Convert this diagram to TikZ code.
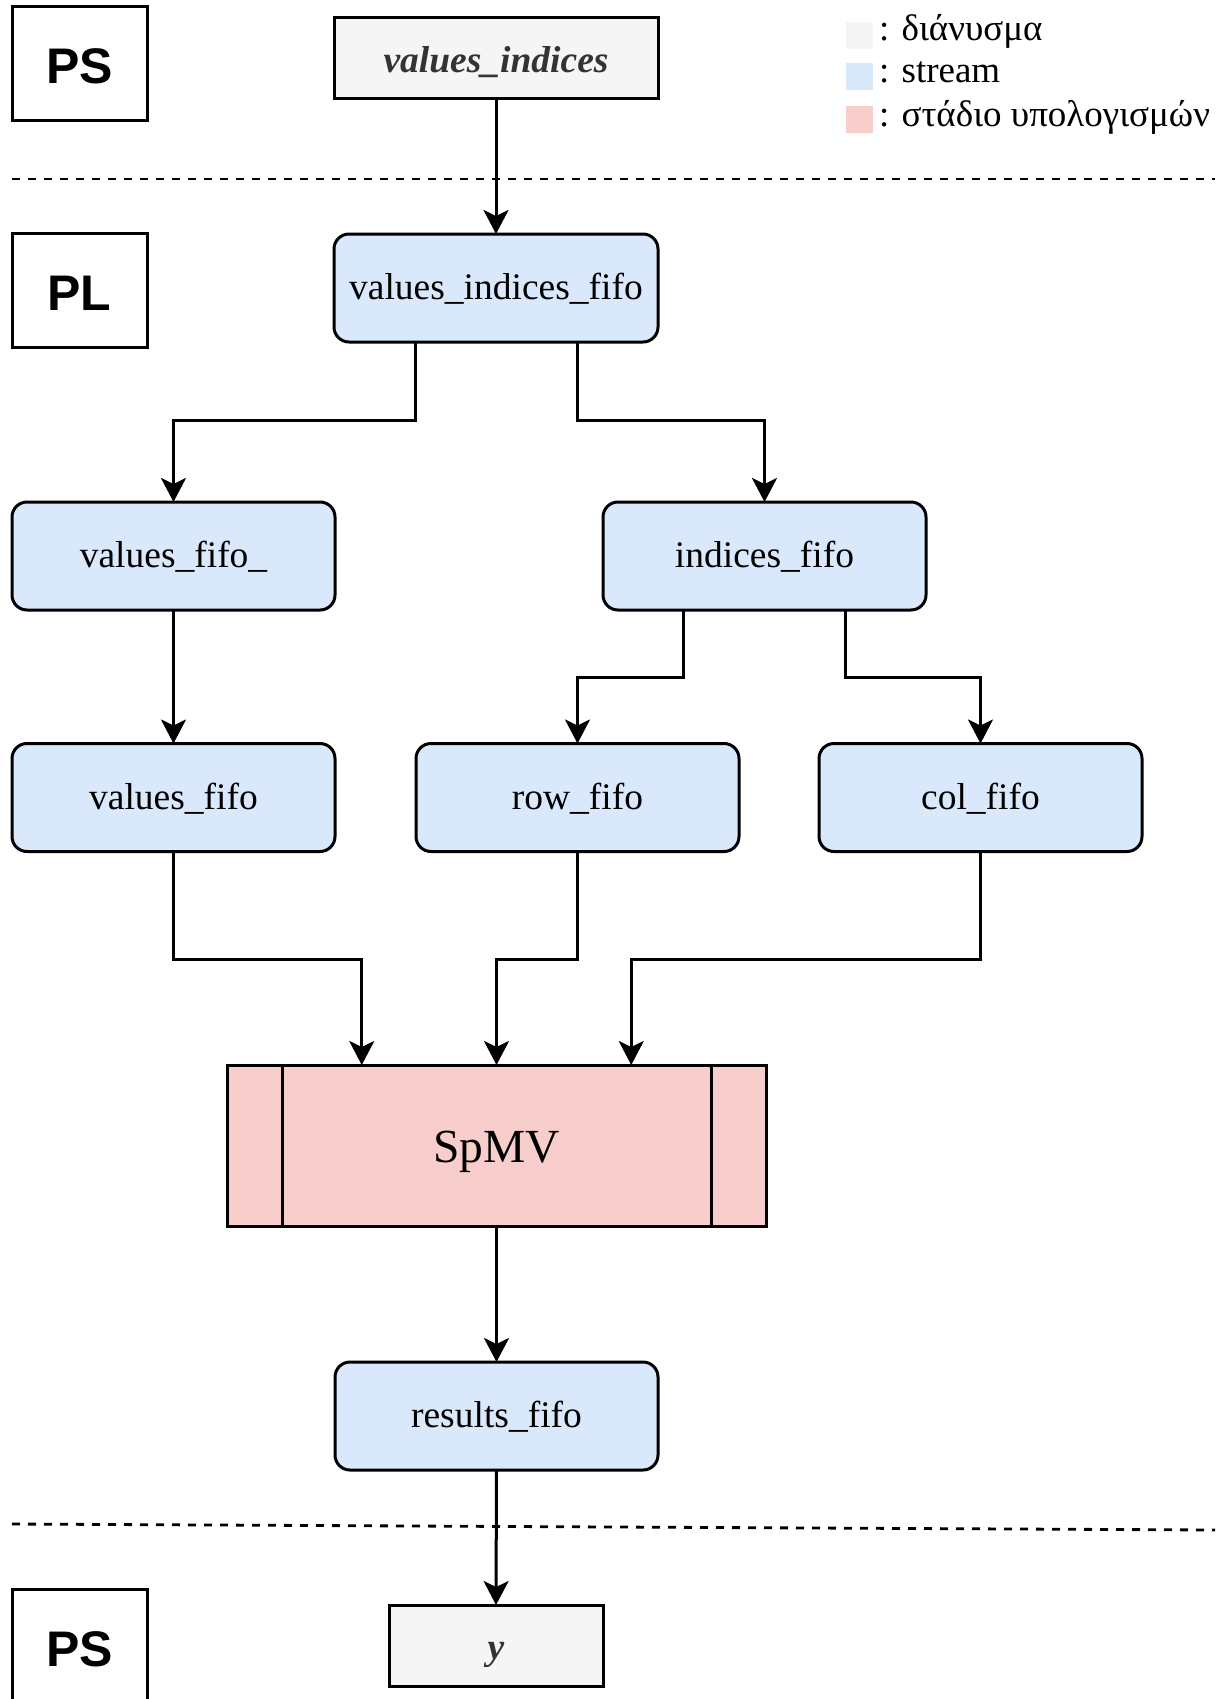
\documentclass[tikz,border=0pt]{standalone}
\usepackage{fontspec}
\setmainfont{Liberation Serif}
\newfontfamily\labelsans{Liberation Sans}
\usetikzlibrary{arrows.meta,calc}
\definecolor{vecfill}{HTML}{F5F5F5}
\definecolor{streamfill}{HTML}{DAE8FC}
\definecolor{stagefill}{HTML}{F8CECC}
\definecolor{vectext}{HTML}{333333}

\begin{document}
\begin{tikzpicture}[x=1pt,y=-1pt,
  every node/.style={inner sep=0pt, outer sep=0pt},
  boxline/.style={draw=black, line width=3pt},
  domainbox/.style={boxline, minimum width=135pt, minimum height=114pt,
    font=\labelsans\bfseries\fontsize{50}{60}\selectfont, text height=40pt, text depth=0pt},
  vecbox/.style={boxline, fill=vecfill, text=vectext, minimum height=81pt,
    font=\bfseries\itshape\fontsize{37.5}{45}\selectfont, text height=36pt, text depth=8pt},
  fifobox/.style={boxline, fill=streamfill, rounded corners=15pt, minimum width=323pt,
    minimum height=108pt, font=\fontsize{37.5}{45}\selectfont, text height=31pt, text depth=8pt},
  stagebox/.style={boxline, fill=stagefill, minimum width=539pt, minimum height=161pt,
    font=\fontsize{47.5}{57}\selectfont, text height=43pt, text depth=10pt},
  conn/.style={line width=3pt, -{Stealth[length=24pt,width=25pt,inset=6pt]}},
  sepline/.style={line width=2.8pt, dash pattern=on 8pt off 8pt},
  swatch/.style={minimum width=27pt, minimum height=27pt},
  legtext/.style={anchor=base west, font=\fontsize{37}{44}\selectfont}
]
\useasboundingbox (0,0) rectangle (1223,1699);

% domain labels
\node[domainbox] (psTop) at (79.5,64) {PS};
\node[domainbox] (plBox) at (79.5,290) {PL};
\node[domainbox] (psBot) at (79.5,1646) {PS};

% domain separators
\draw[sepline] (12,179) -- (1215,179);
\draw[sepline] (12,1524) -- (1215,1530);

% legend
\node[swatch, fill=vecfill] (keyVec) at (859.5,35.5) {};
\node[swatch, fill=streamfill] (keyStream) at (859.5,77) {};
\node[swatch, fill=stagefill] (keyStage) at (859.5,120) {};
\node[legtext] (keyVecText) at (879,41) {: διάνυσμα};
\node[legtext] (keyStreamText) at (879,83) {: stream};
\node[legtext] (keyStageText) at (879,127) {: στάδιο υπολογισμών};

% data flow
\node[vecbox, minimum width=324pt] (vi) at (496,58.5) {values\_indices};
\node[fifobox, minimum width=324pt] (vif) at (496,288) {values\_indices\_fifo};
\node[fifobox] (valuesFifoU) at (173.5,556) {values\_fifo\_};
\node[fifobox] (indicesFifo) at (764.5,556) {indices\_fifo};
\node[fifobox] (valuesFifo) at (173.5,797.5) {values\_fifo};
\node[fifobox] (rowFifo) at (577.5,797.5) {row\_fifo};
\node[fifobox] (colFifo) at (980.5,797.5) {col\_fifo};
\node[stagebox] (spmv) at (496.5,1145.5) {SpMV};
\draw[line width=3pt] ($(spmv.north west)+(55,0)$) -- ($(spmv.south west)+(55,0)$);
\draw[line width=3pt] ($(spmv.north east)+(-55,0)$) -- ($(spmv.south east)+(-55,0)$);
\node[fifobox] (results) at (496.5,1416) {results\_fifo};
\node[vecbox, minimum width=214pt] (yBox) at (496,1645.5) {y};

% connectors
\draw[conn] (vi.south) -- (vif.north);
\draw[conn] ($(vif.south west)!.25!(vif.south east)$) -- ++(0,78) -| (valuesFifoU.north);
\draw[conn] ($(vif.south west)!.75!(vif.south east)$) -- ++(0,78) -| (indicesFifo.north);
\draw[conn] (valuesFifoU.south) -- (valuesFifo.north);
\draw[conn] ($(indicesFifo.south west)!.25!(indicesFifo.south east)$) -- ++(0,67) -| (rowFifo.north);
\draw[conn] ($(indicesFifo.south west)!.75!(indicesFifo.south east)$) -- ++(0,67) -| (colFifo.north);
\draw[conn] (valuesFifo.south) -- ++(0,107.5) -| ($(spmv.north west)!.25!(spmv.north east)$);
\draw[conn] (rowFifo.south) -- ++(0,107.5) -| (spmv.north);
\draw[conn] (colFifo.south) -- ++(0,107.5) -| ($(spmv.north west)!.75!(spmv.north east)$);
\draw[conn] (spmv.south) -- (results.north);
\draw[conn] (results.south) -- (yBox.north);
\end{tikzpicture}
\end{document}
